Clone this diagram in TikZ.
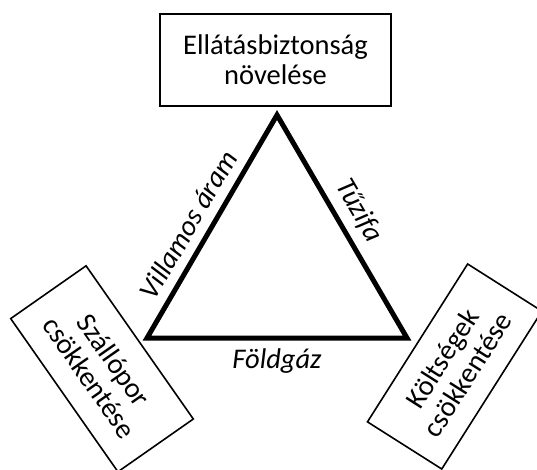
\documentclass[tikz,border=0pt]{standalone}
\usepackage{fontspec}
\setmainfont{Carlito}

\begin{document}
\begin{tikzpicture}[x=1pt, y=-1pt,
		box/.style={draw, line width=1.6pt, align=center, inner sep=0pt, font=\fontsize{28.5}{30}\selectfont},
		lbl/.style={font=\fontsize{28.5}{30}\selectfont\itshape, inner sep=0pt},
		tri/.style={line width=5pt}]
	\clip (0, 0) rectangle (537, 470);

	\node[box, minimum width=231, minimum height=92] (supply) at (275.5, 60) {Ellátásbiztonság\\növelése};
	\node[box, minimum width=187, minimum height=92, rotate=-55] (dust) at (102, 368.8) {Szállópor\\csökkentése};
	\node[box, minimum width=187, minimum height=88, rotate=57.6] (cost) at (454.7, 366.5) {Költségek\\csökkentése};

	\coordinate (apex) at (277, 115);
	\coordinate (bl) at (147, 338);
	\coordinate (br) at (407, 338);

	\draw[tri] (bl) -- node[lbl, sloped, above=9pt, pos=0.46] (elec) {Villamos áram}
		(apex) -- node[lbl, sloped, above=9pt, pos=0.48] (wood) {Tűzifa}
		(br) -- node[lbl, below=8pt] (gas) {Földgáz} cycle;
\end{tikzpicture}
\end{document}
